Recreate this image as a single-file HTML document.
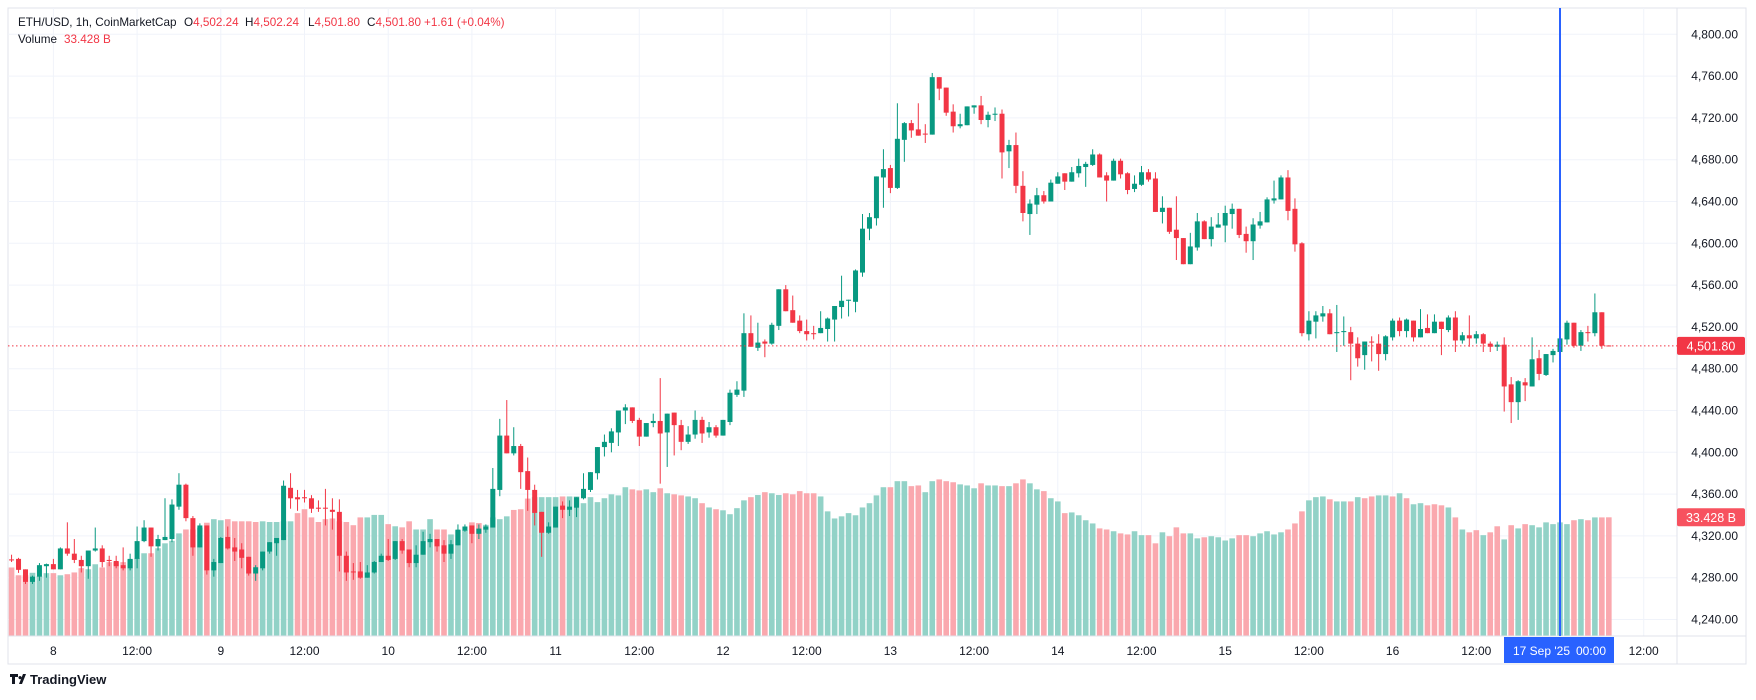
<!DOCTYPE html>
<html><head><meta charset="utf-8"><style>
html,body{margin:0;padding:0;background:#fff;width:1756px;height:700px;overflow:hidden}
svg{display:block;font-family:"Liberation Sans",sans-serif}
</style></head><body>
<svg id="chart" width="1756" height="700" viewBox="0 0 1756 700" xmlns="http://www.w3.org/2000/svg">
<rect x="8" y="8" width="1738" height="656" fill="#fff" stroke="#e0e3eb" stroke-width="1"/>
<g id="grid"></g>
<g id="vol"></g>
<g id="candles"></g>
<line x1="8" y1="636" x2="1746" y2="636" stroke="#e0e3eb"/>
<line x1="1677" y1="8" x2="1677" y2="664" stroke="#e0e3eb"/>
<g id="yaxis"></g>
<g id="xaxis"></g>
<g id="overlay"></g>
<g font-size="11.7" fill="#131722">
<text x="18" y="26">ETH/USD, 1h, CoinMarketCap</text>
<text x="184" y="26">O<tspan fill="#f23645">4,502.24</tspan><tspan x="245">H</tspan><tspan fill="#f23645">4,502.24</tspan><tspan x="308">L</tspan><tspan fill="#f23645">4,501.80</tspan><tspan x="367">C</tspan><tspan fill="#f23645">4,501.80</tspan><tspan x="424" fill="#f23645">+1.61 (+0.04%)</tspan></text>
<text x="18" y="43">Volume <tspan x="64" fill="#f23645">33.428 B</tspan></text>
</g>
<g>
<path d="M10 674 h8 v3 h-3 v7 h-3 v-7 h-2 z M19 684 l4 -10 h3 l-4 10 z M20 676 a1.6 1.6 0 1 0 0.01 0" fill="#131722"/>
<text x="30" y="684" font-size="13" font-weight="bold" fill="#131722">TradingView</text>
</g>
</svg>
<script>
const open=[4297.5,4298,4288,4276,4281,4291,4293,4288,4308,4303,4297,4291,4306,4308,4297,4296,4292,4289,4298,4315,4328,4310,4316,4317,4348,4369,4337,4309,4330,4287,4294,4319,4309,4307,4300,4284,4289,4305,4313,4316,4366,4357,4357,4356,4347,4347,4345,4343,4301,4286,4286,4280,4285,4295,4301,4298,4315,4307,4294,4302,4314,4317,4311,4303,4311,4325,4330,4322,4326,4328,4364,4416,4399,4406,4382,4364,4343,4323,4328,4349,4345,4347,4356,4364,4380,4405,4409,4419,4440,4443,4431,4415,4428,4430,4419,4438,4426,4410,4417,4431,4419,4424,4416,4429,4455,4459,
4514,4500,4506,4504,4521,4556,4536,4526,4516,4514,4514,4518,4527,4539,4545,4544,4572,4614,4624,4663,4672,4653,4699,4715,4709,4705,4704,4759,4749,4726,4712,4713,4730,4732,4718,4723,4724,4688,4694,4655,4628,4637,4646,4640,4657,4667,4659,4667,4673,4675,4685,4665,4660,
4679,4667,4652,4656,4668,4662,4630,4634,4613,4605,4580,4596,4621,4604,4615,4617,4628,4633,4609,4602,4617,4620,4641,4642,4663,4633,4600,4513,4525,4530,4533,4514,4515,4515,4504,4493,4506,4504,4494,4510,4526,4516,4526,4510,4519,4514,4525,4517,4529,4507,4512,4509,4513,4504,4501,4503,4465,4448,4467,4463,4490,4474,4493,4496,4508,4524,4502,4515,4514,4534,4502.24];
const high=[4302,4299,4288,4282,4294,4293.5,4298,4309,4333,4317,4301,4306,4328,4311,4301,4301,4309,4303,4329,4335,4328,4321,4356,4355,4380,4370,4339,4332,4330,4298,4319,4329,4318,4313,4300,4292,4305,4314,4318,4373,4380,4364,4364,4359,4354,4365,4356,4355,4305,4294,4295,4292,4296,4303,4317,4315,4317,4307,4311,4324,4322,4317,4316,4316,4331,4331,4330,4331,4331,4385,4432,4450,4424,4408,4395,4369,4343,4333,4348,4353,4354,4357,4380,4381,4405,4417,4423,4440,4446,4443,4433,4428,4437,4471,4437,4438,4431,4425,4440,4434,4429,4426,4431,4460,4468,4533,
4531,4524,4508,4524,4556,4560,4550,4531,4527,4521,4535,4529,4540,4569,4546,4575,4628,4629,4664,4690,4675,4734,4716,4718,4734,4714,4763,4759,4749,4733,4724,4731,4732,4741,4726,4730,4728,4699,4706,4669,4642,4653,4650,4661,4668,4667,4673,4681,4678,4690,4686,4668,4681,
4681,4668,4665,4674,4671,4668,4645,4634,4645,4605,4610,4629,4622,4625,4629,4636,4638,4633,4616,4624,4630,4644,4660,4665,4670,4643,4601,4535,4535,4540,4537,4541,4530,4520,4510,4506,4511,4513,4512,4528,4529,4528,4526,4537,4532,4532,4525,4531,4535,4515,4531,4516,4514,4506,4506,4510,4472,4469,4471,4510,4498,4494,4499,4509,4526,4524,4517,4521,4552,4534,4502.24];
const low=[4295,4284.6,4274,4274,4277,4280,4288,4288,4301,4294,4285,4279,4305,4290,4291,4289,4287,4287,4289,4314,4300,4306,4316,4314,4345,4334,4301,4309,4283,4281,4294,4307,4296,4289,4282,4277,4287,4303,4301,4316,4346,4344,4352,4342,4343,4330,4326,4286,4277,4278,4279,4280,4284,4295,4296,4297,4303,4290,4290,4302,4309,4305,4295,4298,4311,4324,4313,4317,4323,4328,4358,4399,4397,4365,4344,4330,4300,4322,4328,4337,4339,4338,4355,4362,4374,4396,4400,4406,4427,4428,4406,4415,4424,4370,4386,4397,4402,4408,4413,4409,4414,4414,4416,4426,4453,4453,
4501,4497,4491,4503,4517,4535,4524,4514,4507,4508,4514,4506,4506,4528,4530,4534,4568,4603,4617,4634,4648,4652,4678,4701,4703,4696,4704,4737,4722,4706,4710,4713,4724,4714,4711,4717,4662,4672,4648,4621,4608,4628,4638,4640,4657,4651,4659,4663,4654,4674,4663,4640,4660,
4662,4647,4649,4655,4659,4630,4619,4609,4584,4580,4580,4593,4604,4597,4615,4601,4614,4605,4591,4584,4614,4620,4638,4642,4622,4592,4511,4507,4509,4525,4513,4496,4502,4469,4482,4479,4487,4478,4488,4507,4511,4510,4506,4510,4514,4514,4493,4515,4496,4504,4501,4504,4496,4496,4497,4439,4428,4431,4449,4463,4469,4473,4486,4493,4503,4500,4497,4506,4511,4499,4501.8];
const close=[4297,4287.5,4276,4281,4292,4293,4288,4308,4303,4297,4291,4306,4308,4295,4296,4291,4289,4298,4315,4328,4310,4317,4319,4350,4369,4337,4309,4330,4287,4295,4318,4308,4305,4299,4284,4290,4305,4314,4318,4368,4356,4355,4356,4346,4346,4346,4343,4301,4285,4285,4280,4285,4295,4301,4297,4315,4306,4294,4302,4315,4317,4310,4303,4312,4326,4329,4322,4327,4329,4365,4416,4399,4406,4381,4364,4342,4323,4329,4348,4345,4348,4357,4365,4381,4405,4410,4420,4440,4443,4430,4415,4428,4430,4418,4437,4426,4410,4417,4431,4418,4424,4416,4431,4457,4460,4514,
4501,4505,4504,4522,4556,4535,4524,4516,4513,4513,4519,4528,4540,4545,4546,4574,4614,4625,4664,4671,4653,4700,4715,4708,4703,4704,4759,4748,4725,4712,4714,4731,4732,4718,4723,4724,4687,4694,4655,4629,4638,4646,4640,4658,4664,4659,4668,4674,4676,4685,4663,4660,4679,
4666,4651,4657,4668,4661,4630,4634,4611,4605,4580,4597,4621,4604,4616,4618,4629,4633,4608,4602,4618,4621,4642,4643,4663,4631,4599,4514,4526,4531,4533,4513,4515,4516,4504,4490,4506,4505,4494,4511,4526,4516,4527,4510,4518,4514,4525,4518,4529,4507,4512,4509,4513,4504,4501,4503,4463,4448,4468,4464,4489,4475,4494,4497,4509,4524,4502,4515,4514,4534,4502,4501.8];
const volume=[19.3,17.1,17.1,17.8,16.9,17.7,17.7,17.1,17.4,17.9,19.1,18.8,20.2,19.3,20.8,20.8,20.8,21.6,21.9,23.3,23.3,24.7,26.1,26.8,28.9,30.0,30.0,30.5,31.9,32.9,32.6,32.9,32.3,32.3,32.3,32.1,32.3,32.1,32.1,32.3,32.3,34.6,35.7,33.4,32.1,32.9,33.1,32.3,32.1,31.2,33.4,33.4,34.1,34.1,31.5,30.9,30.6,32.3,30.0,30.0,32.9,30.0,30.0,28.6,29.8,29.8,32.0,31.8,31.3,33.4,32.9,33.7,35.5,35.7,38.7,39.1,39.1,39.1,39.1,39.3,39.3,39.3,37.4,39.1,37.7,38.8,39.9,39.6,41.9,41.3,41.0,41.3,40.5,41.6,40.2,39.9,39.6,39.3,38.8,37.4,36.2,35.7,35.4,34.3,36.0,38.2,39.1,39.7,40.5,40.2,39.7,40.2,39.9,40.8,40.2,40.2,39.3,35.1,33.1,33.7,34.6,34.0,36.2,37.4,39.6,41.9,41.9,43.6,43.6,42.2,42.4,40.5,43.6,44.1,43.6,43.3,42.7,42.4,41.6,43.0,42.4,42.4,42.2,42.2,43.0,44.1,43.0,41.3,40.8,38.8,37.9,34.6,34.8,34.0,32.6,31.7,30.3,30.0,29.5,28.9,28.6,29.5,28.4,28.4,26.1,29.2,28.1,30.6,28.9,28.9,27.5,27.8,28.1,27.8,26.9,27.5,28.4,28.4,28.1,28.9,29.5,28.6,29.2,30.0,31.7,35.1,38.2,39.1,39.3,38.5,37.9,37.9,37.9,39.1,38.8,39.3,39.6,39.6,39.3,40.2,38.8,37.1,37.4,36.8,37.1,36.8,36.2,33.4,30.0,29.2,29.8,28.4,29.2,30.9,27.2,31.2,30.3,31.5,31.2,30.6,32.0,31.5,32.0,31.5,32.6,32.9,32.6,33.4,33.4,33.428];
const volumeUp=[0,0,0,1,1,1,0,1,0,0,0,1,1,0,0,0,0,1,1,1,0,1,1,1,1,0,0,1,0,1,1,0,0,0,0,0,1,1,1,1,1,0,0,0,0,0,0,0,0,0,0,1,1,1,0,1,0,0,1,1,1,0,0,1,1,1,0,0,1,1,1,1,0,0,0,1,1,1,1,0,1,1,1,1,1,1,1,1,1,0,0,1,1,0,1,0,0,1,1,0,1,0,1,1,1,1,0,1,0,1,1,0,0,0,0,0,1,1,1,1,1,1,1,1,1,1,0,1,1,0,0,1,1,0,0,0,1,1,1,0,1,1,0,1,0,0,1,1,0,1,1,0,1,1,1,1,0,0,1,0,0,1,1,0,0,1,0,0,0,1,1,0,1,1,1,1,0,0,1,1,1,1,1,0,0,0,1,1,1,0,1,1,0,1,0,0,1,1,0,1,0,1,1,0,0,0,1,0,1,0,0,1,0,0,1,0,1,0,1,1,1,1,1,1,0,1,0,1,0,0];
const priceTicks=[4800,4760,4720,4680,4640,4600,4560,4520,4480,4440,4400,4360,4320,4280,4240];
const priceTickLabels=["4,800.00","4,760.00","4,720.00","4,680.00","4,640.00","4,600.00","4,560.00","4,520.00","4,480.00","4,440.00","4,400.00","4,360.00","4,320.00","4,280.00","4,240.00"];
const timeTickIdx=[6,18,30,42,54,66,78,90,102,114,126,138,150,162,174,186,198,210,234];
const timeTickLabels=["8","12:00","9","12:00","10","12:00","11","12:00","12","12:00","13","12:00","14","12:00","15","12:00","16","12:00","12:00"];
const lastPrice=4501.8, lastPriceLabel="4,501.80", lastVolLabel="33.428 B";
const cursorIdx=222, cursorLabel="17 Sep '25", cursorTime="00:00";

const NS="http://www.w3.org/2000/svg";
const xOf=i=>11.55+i*6.975;
const yOf=p=>34.3+(4800-p)*1.045;
const vh=v=>v*3.551;
const VB=636;
function mk(tag,attrs,parent){const e=document.createElementNS(NS,tag);for(const k in attrs)e.setAttribute(k,attrs[k]);parent.appendChild(e);return e;}
const grid=document.getElementById('grid'),vol=document.getElementById('vol'),cg=document.getElementById('candles'),ya=document.getElementById('yaxis'),xa=document.getElementById('xaxis'),ov=document.getElementById('overlay');
priceTicks.forEach((p,k)=>{
  const l=mk('line',{x1:8,x2:1677,y1:yOf(p),y2:yOf(p),stroke:'#f0f3fa'},grid);
  
  
  const t=mk('text',{x:1738,y:yOf(p)+4,'text-anchor':'end','font-size':'12',fill:'#131722'},ya);
  t.textContent=priceTickLabels[k];
  
  
});
timeTickIdx.forEach((i,k)=>{
  const l=mk('line',{x1:xOf(i),x2:xOf(i),y1:8,y2:636,stroke:'#f0f3fa'},grid);
  
  
  const t=mk('text',{x:xOf(i),y:655,'text-anchor':'middle','font-size':'12',fill:'#131722'},xa);
  t.textContent=timeTickLabels[k];
  
  
});
volume.forEach((v,i)=>{
  const r=mk('rect',{x:xOf(i)-2.8,y:VB-vh(v),width:5.6,height:vh(v),fill:volumeUp[i]?'#92d2c7':'#faa8ae'},vol);
  
  
});
close.forEach((c,i)=>{
  const o=open[i],up=c>=o,col=up?'#089981':'#f23645',x=xOf(i);
  const w=mk('line',{x1:x,x2:x,y1:yOf(high[i]),y2:yOf(low[i]),stroke:col,'stroke-width':1},cg);
  
  
  const top=yOf(Math.max(o,c)),bh=Math.max(1,yOf(Math.min(o,c))-top);
  const b=mk('rect',{x:x-2.5,y:top,width:5,height:bh,fill:col},cg);
  
  
});
const ly=yOf(lastPrice);
const pl=mk('line',{x1:8,x2:1677,y1:ly,y2:ly,stroke:'#f23645','stroke-dasharray':'1.5 2.5'},ov);


const pb=mk('rect',{x:1677,y:ly-9,width:68,height:18,rx:2,fill:'#f23645'},ov);


const pt=mk('text',{x:1711,y:ly+4.5,'text-anchor':'middle','font-size':'12.5',fill:'#fff'},ov);
pt.textContent=lastPriceLabel;


const vy=VB-vh(volume[volume.length-1]);
const vb=mk('rect',{x:1677,y:vy-9,width:68,height:18,rx:2,fill:'#f7525f'},ov);


const vt=mk('text',{x:1711,y:vy+4.5,'text-anchor':'middle','font-size':'12.5',fill:'#fff'},ov);
vt.textContent=lastVolLabel;


const cx=xOf(cursorIdx);
const cl=mk('line',{x1:cx,x2:cx,y1:8,y2:636,stroke:'#2962ff','stroke-width':2},ov);


const cb=mk('rect',{x:cx-56,y:637,width:110,height:26,fill:'#2962ff'},ov);


const ct=mk('text',{x:cx-47,y:655,'font-size':'12',fill:'#fff'},ov);
ct.textContent=cursorLabel;


const ct2=mk('text',{x:cx+16,y:655,'font-size':'12',fill:'#fff'},ov);
ct2.textContent=cursorTime;


</script>
</body></html>
